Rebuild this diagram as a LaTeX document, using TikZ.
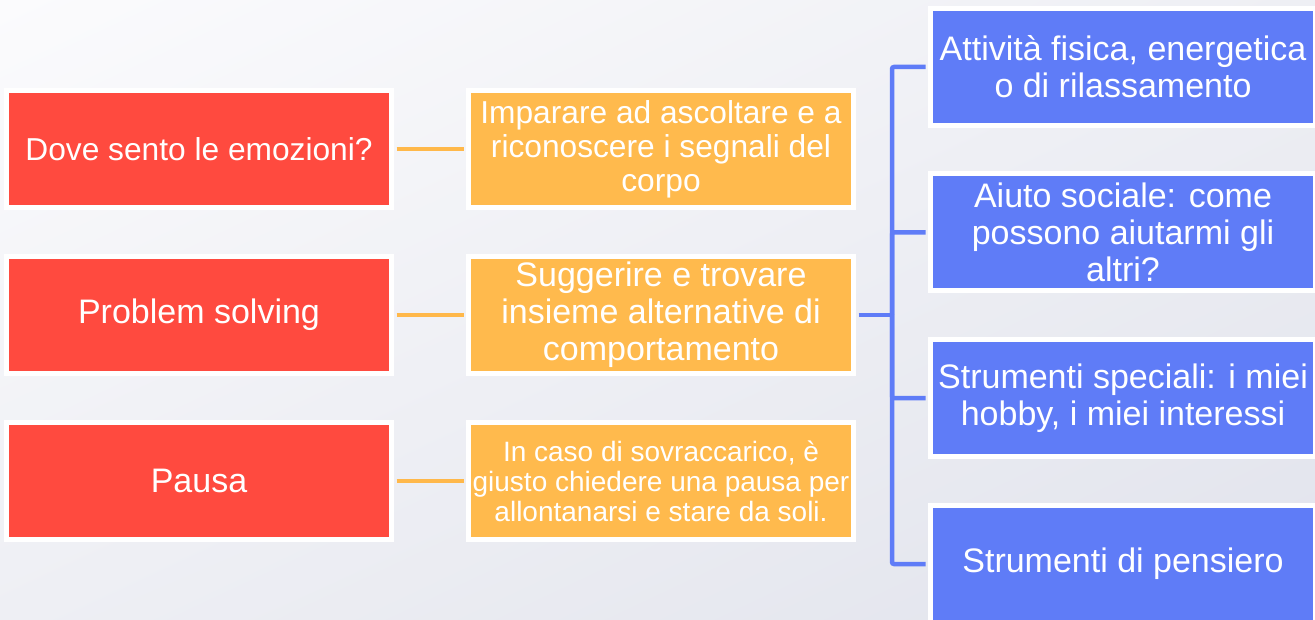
\documentclass[tikz,border=0pt]{standalone}
\usepackage{fontspec}
\setmainfont{Liberation Sans}
\usetikzlibrary{shadings}
\definecolor{cred}{HTML}{FF4A3F}
\definecolor{corange}{HTML}{FFBA4D}
\definecolor{cblue}{HTML}{5F7CF7}
\definecolor{clineo}{HTML}{FFB84A}
\definecolor{bgtl}{HTML}{FBFBFD}
\definecolor{bgbr}{HTML}{E1E3EC}
\definecolor{bgm}{HTML}{EEEFF4}
\newcommand{\fsA}{\fontsize{31.7}{34}\selectfont}
\newcommand{\fsB}{\fontsize{34}{37}\selectfont}
\newcommand{\fsC}{\fontsize{28}{30}\selectfont}
\tikzset{
  box/.style={draw=white, line width=5pt, minimum width=385pt, minimum height=117pt,
    inner sep=0pt, text=white, align=center, font=\fsB},
  redbox/.style={box, fill=cred},
  orbox/.style={box, fill=corange},
  bluebox/.style={box, fill=cblue},
  fa/.style={font=\fsA},
  fc/.style={font=\fsC},
  oline/.style={draw=clineo, line width=4.5pt, shorten <=2.5pt, shorten >=2.5pt},
  bline/.style={draw=cblue, line width=4.5pt, rounded corners=2pt, shorten <=2.5pt},
}
\begin{document}
\begin{tikzpicture}[x=1pt, y=-1pt]
\useasboundingbox (0,0) rectangle (1315,620);
\shade[upper left=bgtl, upper right=bgm, lower left=bgm, lower right=bgbr] (0,0) rectangle (1315,620);
\begin{scope}
\clip (0,0) rectangle (1315,620);
% red boxes
\node[redbox, fa] (r1) at (199,149) {Dove sento le emozioni?};
\node[redbox] (r2) at (199,315) {Problem solving};
\node[redbox] (r3) at (199,481) {Pausa};
% orange boxes
\node[orbox, fa] (o1) at (661,149) {Imparare ad ascoltare e a\\ riconoscere i segnali del\\ corpo};
\node[orbox] (o2) at (661,315) {Suggerire e trovare\\ insieme alternative di\\ comportamento};
\node[orbox, fc] (o3) at (661,481) {In caso di sovraccarico, è\\ giusto chiedere una pausa per\\ allontanarsi e stare da soli.};
% blue boxes
\node[bluebox] (b1) at (1123,67) {Attività fisica, energetica\\ o di rilassamento};
\node[bluebox] (b2) at (1123,232.5) {Aiuto sociale: come\\ possono aiutarmi gli\\ altri?};
\node[bluebox] (b3) at (1123,398) {Strumenti speciali: i miei\\ hobby, i miei interessi};
\node[bluebox] (b4) at (1123,564) {Strumenti di pensiero};
% connectors
\coordinate (j) at (892,315);
\draw[oline] (r1.east) -- (o1.west);
\draw[oline] (r2.east) -- (o2.west);
\draw[oline] (r3.east) -- (o3.west);
\draw[bline] (o2.east) -- (j);
\draw[bline] (b1.west) -| (j);
\draw[bline] (b2.west) -| (j);
\draw[bline] (b3.west) -| (j);
\draw[bline] (b4.west) -| (j);
\end{scope}
\end{tikzpicture}
\end{document}
